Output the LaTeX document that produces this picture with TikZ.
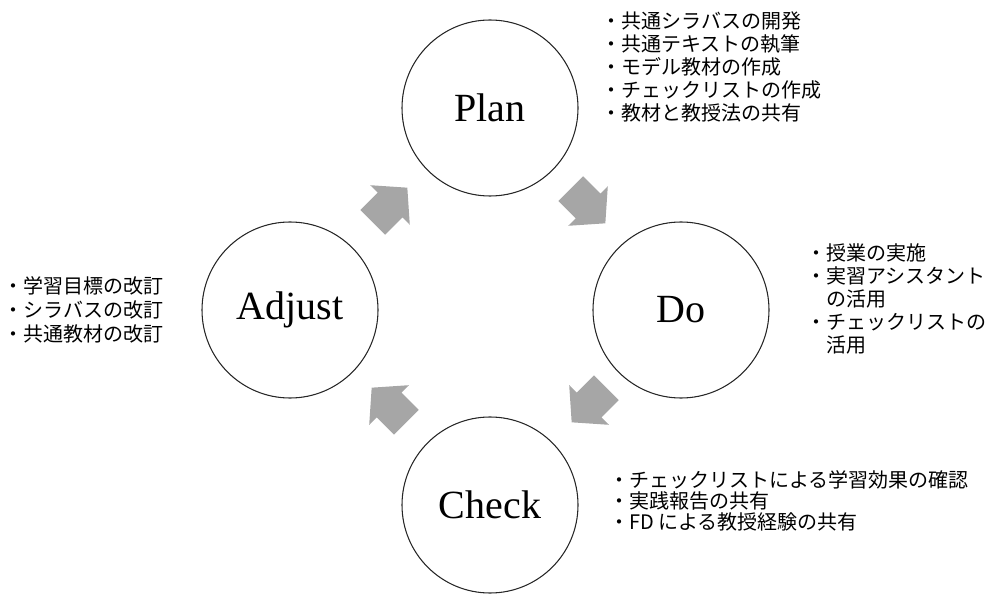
\documentclass[tikz,border=0pt]{standalone}
\usepackage{fontspec}
\setmainfont{Liberation Serif}
\newfontfamily\jpfont{Noto Sans CJK JP}
\usetikzlibrary{positioning}

\tikzset{
  stage/.style={circle, draw=black!85, line width=0.8pt, minimum size=132pt, inner sep=0pt, font=\fontsize{30}{33}\selectfont},
  note/.style={anchor=north west, align=left, inner sep=0pt, font=\jpfont\fontsize{15}{17.4}\selectfont},
  flow/.style={fill=black!35}
}

\begin{document}
\begin{tikzpicture}[x=0.75pt, y=-0.75pt]
\useasboundingbox (0,0) rectangle (993,595);

% the four stages of the cycle
\node[stage] (plan) at (490,108) {Plan};
\node[stage] (do) at (681,310) {Do};
\node[stage] (check) at (490,505) {Check};
\node[stage] (adjust) at (290,310) {Adjust};

% block arrows between the stages (centre x / centre y / direction)
\foreach \ax/\ay/\ang in {390/205/45, 588/206/-45, 589/405/-135, 389/405/135}
  \fill[flow, shift={(\ax,\ay)}, rotate=\ang]
    (-24.5,-17.5) -- (0,-17.5) -- (0,-28) -- (24.5,0) -- (0,28) -- (0,17.5) -- (-24.5,17.5) -- cycle;

% notes beside each stage
\node[note] (plannote) at (601,11) {・共通シラバスの開発\\・共通テキストの執筆\\・モデル教材の作成\\・チェックリストの作成\\・教材と教授法の共有};
\node[note] (donote) at (806,243) {・授業の実施\\・実習アシスタント\\\phantom{・}の活用\\・チェックリストの\\\phantom{・}活用};
\node[note, font=\jpfont\fontsize{15}{18}\selectfont] (adjustnote) at (3,276) {・学習目標の改訂\\・シラバスの改訂\\・共通教材の改訂};
\node[note, font=\jpfont\fontsize{15}{16}\selectfont] (checknote) at (609,470) {・チェックリストによる学習効果の確認\\・実践報告の共有\\・FD による教授経験の共有};

\end{tikzpicture}
\end{document}
